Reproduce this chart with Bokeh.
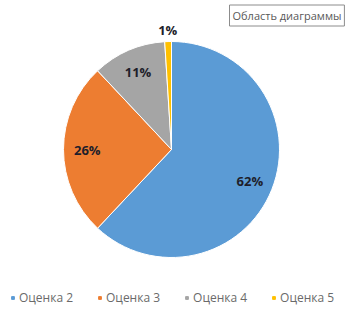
import math
from bokeh.plotting import figure
from bokeh.models import ColumnDataSource, Range1d, Legend, LegendItem, Label
from bokeh.core.properties import value
from bokeh.embed import file_html
from bokeh.resources import INLINE

categories = ["Оценка 2", "Оценка 3", "Оценка 4", "Оценка 5"]
shares = [62, 26, 11, 1]
labels = ["62%", "26%", "11%", "1%"]
colors = ["#5B9BD5", "#ED7D31", "#A5A5A5", "#FFC000"]
tooltip_text = "Область диаграммы"

W, H = 363, 310
cx, cy, r = 171, H - 149, 108

total = float(sum(shares))
starts, ends, lx, ly = [], [], [], []
cum = 0.0
for s in shares:
    a0 = math.pi / 2 - 2 * math.pi * cum / total
    cum += s
    a1 = math.pi / 2 - 2 * math.pi * cum / total
    starts.append(a1)
    ends.append(a0)
    mid = (a0 + a1) / 2
    f = 1.11 if s / total < 0.05 else 0.78
    lx.append(cx + r * f * math.cos(mid))
    ly.append(cy + r * f * math.sin(mid))

src = ColumnDataSource(dict(start=starts, end=ends, color=colors, cat=categories,
                            lx=lx, ly=ly, lab=labels))

p = figure(width=W, height=H, output_backend="svg", toolbar_location=None,
           x_range=Range1d(0, W), y_range=Range1d(0, H), min_border=0)
p.axis.visible = False
p.grid.visible = False
p.outline_line_color = None
p.background_fill_color = "white"

p.wedge(x=cx, y=cy, radius=r, start_angle="start", end_angle="end",
        direction="anticlock", fill_color="color", line_color="white",
        line_width=1, source=src)

p.text(x="lx", y="ly", text="lab", source=src, text_align="center",
       text_baseline="middle", text_font=value("Open Sans"),
       text_font_style="bold", text_font_size="13px", text_color="#1e1e2a")

items = []
for c, col in zip(categories, colors):
    rr = p.scatter(x=[float("nan")], y=[float("nan")], marker="square",
                   size=7, fill_color=col, line_color=col)
    items.append(LegendItem(label=c, renderers=[rr]))

legend = Legend(items=items, orientation="horizontal",
                glyph_width=7, glyph_height=7, label_text_font_size="12px",
                label_text_font="Open Sans", label_text_color="#6a6a6a",
                label_standoff=3, spacing=23, padding=0, margin=0,
                border_line_color=None, background_fill_alpha=0,
                label_height=12)
legend.location = (9, 4)
p.add_layout(legend, "center")

shadow = Label(x=231, y=H - 17, text=tooltip_text, text_font="Open Sans",
               text_font_size="11px", text_color="#d0d0d0", text_alpha=0,
               text_baseline="middle", background_fill_color="#c8c8c8",
               padding=3)
p.add_layout(shadow)
tip = Label(x=229, y=H - 15, text=tooltip_text, text_font="Open Sans",
            text_font_size="11px", text_color="#595959", text_baseline="middle",
            border_line_color="#8c8c8c", border_line_width=1,
            background_fill_color="white", padding=3)
p.add_layout(tip)

open("out.html", "w").write(file_html(p, INLINE))
